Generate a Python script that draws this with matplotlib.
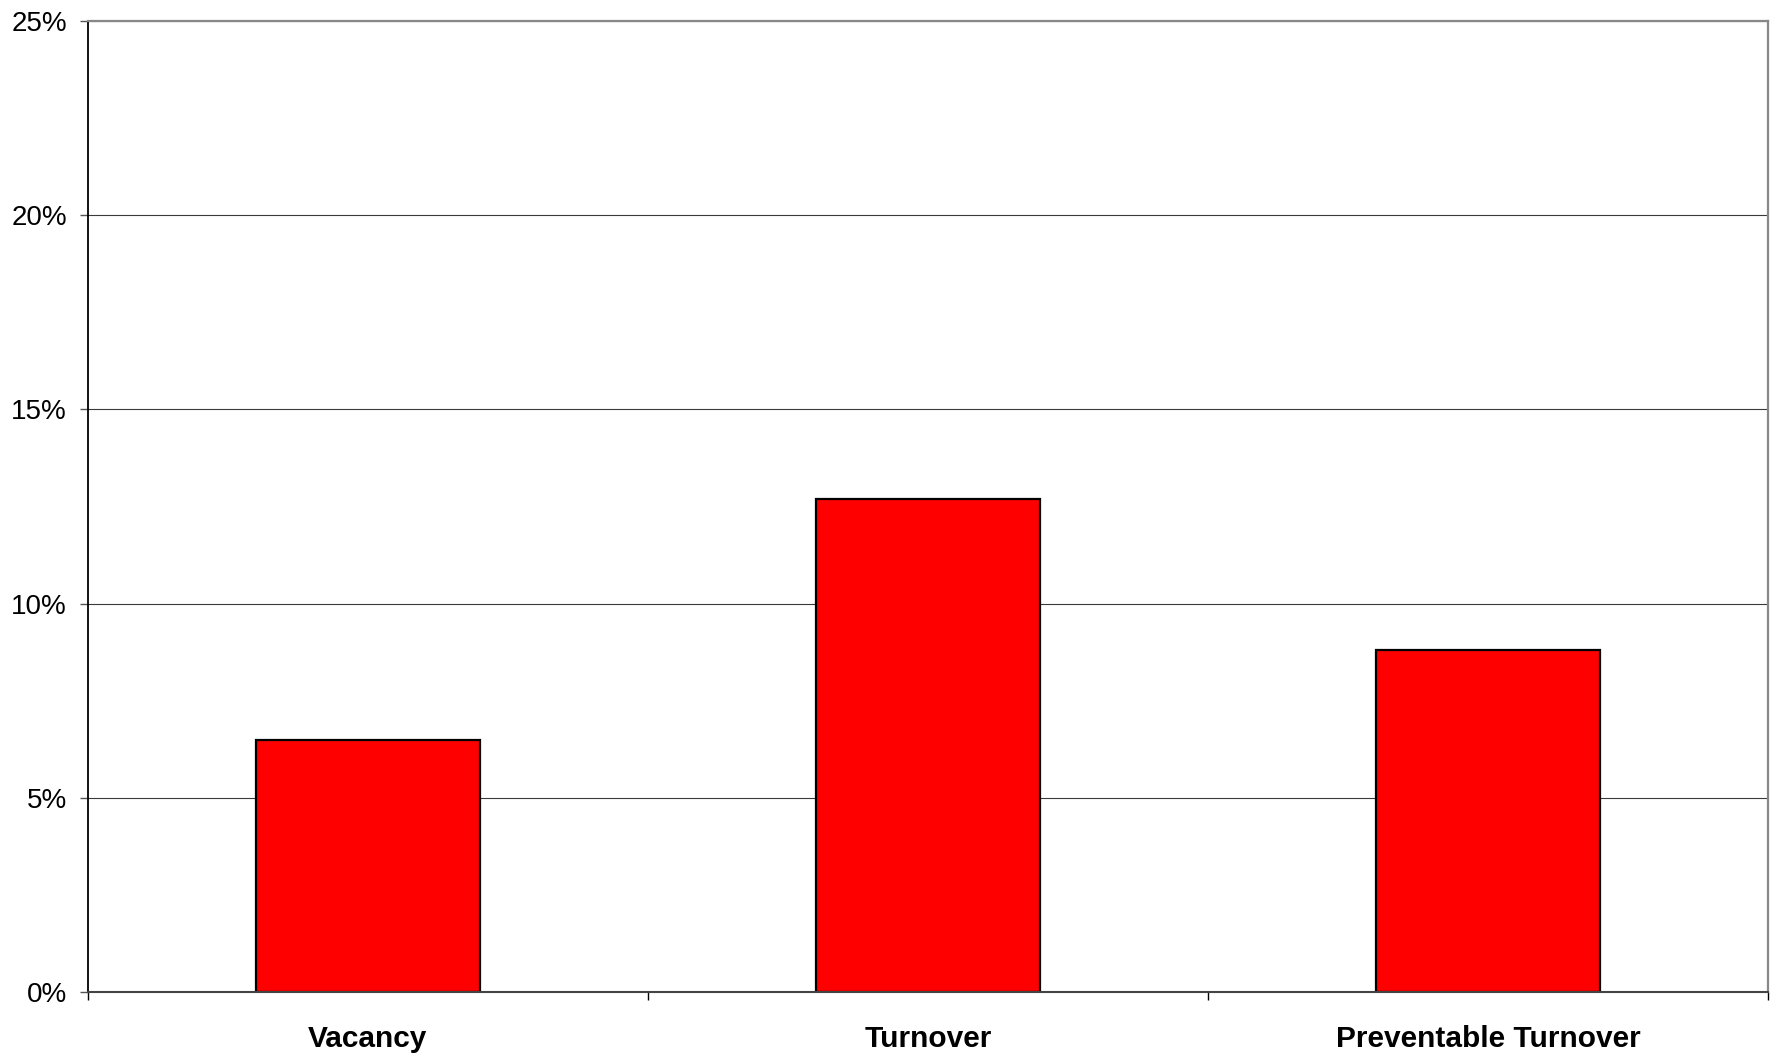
import matplotlib.pyplot as plt
from matplotlib.ticker import FuncFormatter, FixedLocator

plt.rcParams["font.family"] = ["Liberation Sans", "DejaVu Sans"]

# Rates per category (percent)
categories = ["Vacancy", "Turnover", "Preventable Turnover"]
rates = [6.5, 12.7, 8.8]
y_ticks = [0, 5, 10, 15, 20, 25]

fig = plt.figure(figsize=(17.76, 10.57), dpi=100)
ax = fig.add_axes([0.0495, 0.0615, 0.946, 0.9185])

x = list(range(len(categories)))
ax.bar(x, rates, width=0.4, color="#FF0000", edgecolor="black", linewidth=1.6, zorder=3)

ax.set_xlim(-0.5, len(categories) - 0.5)
ax.set_ylim(0, 25)

# horizontal gridlines
ax.set_yticks(y_ticks)
ax.yaxis.set_major_formatter(FuncFormatter(lambda v, _: f"{v:.0f}%"))
ax.grid(axis="y", color="#3a3a3a", linewidth=0.8, zorder=0)

# category labels at centers, tick marks at boundaries
ax.set_xticks(x)
ax.set_xticklabels(categories, fontsize=21.5, fontweight="bold")
ax.tick_params(axis="x", which="major", length=0, pad=23.5)
ax.xaxis.set_minor_locator(FixedLocator([-0.5, 0.5, 1.5, 2.5]))
ax.tick_params(axis="x", which="minor", length=6, width=1, color="black", direction="out")
ax.tick_params(axis="y", length=6, width=1, color="#555555", pad=9, labelsize=20)

ax.spines["left"].set_color("black")
ax.spines["left"].set_linewidth(1.3)
ax.spines["bottom"].set_color("#444444")
ax.spines["bottom"].set_linewidth(1.5)
ax.spines["bottom"].set_zorder(4)
ax.spines["top"].set_color("#888888")
ax.spines["top"].set_linewidth(1.6)
ax.spines["right"].set_color("#888888")
ax.spines["right"].set_linewidth(1.6)

fig.savefig("out.png", dpi=100, facecolor="white")
